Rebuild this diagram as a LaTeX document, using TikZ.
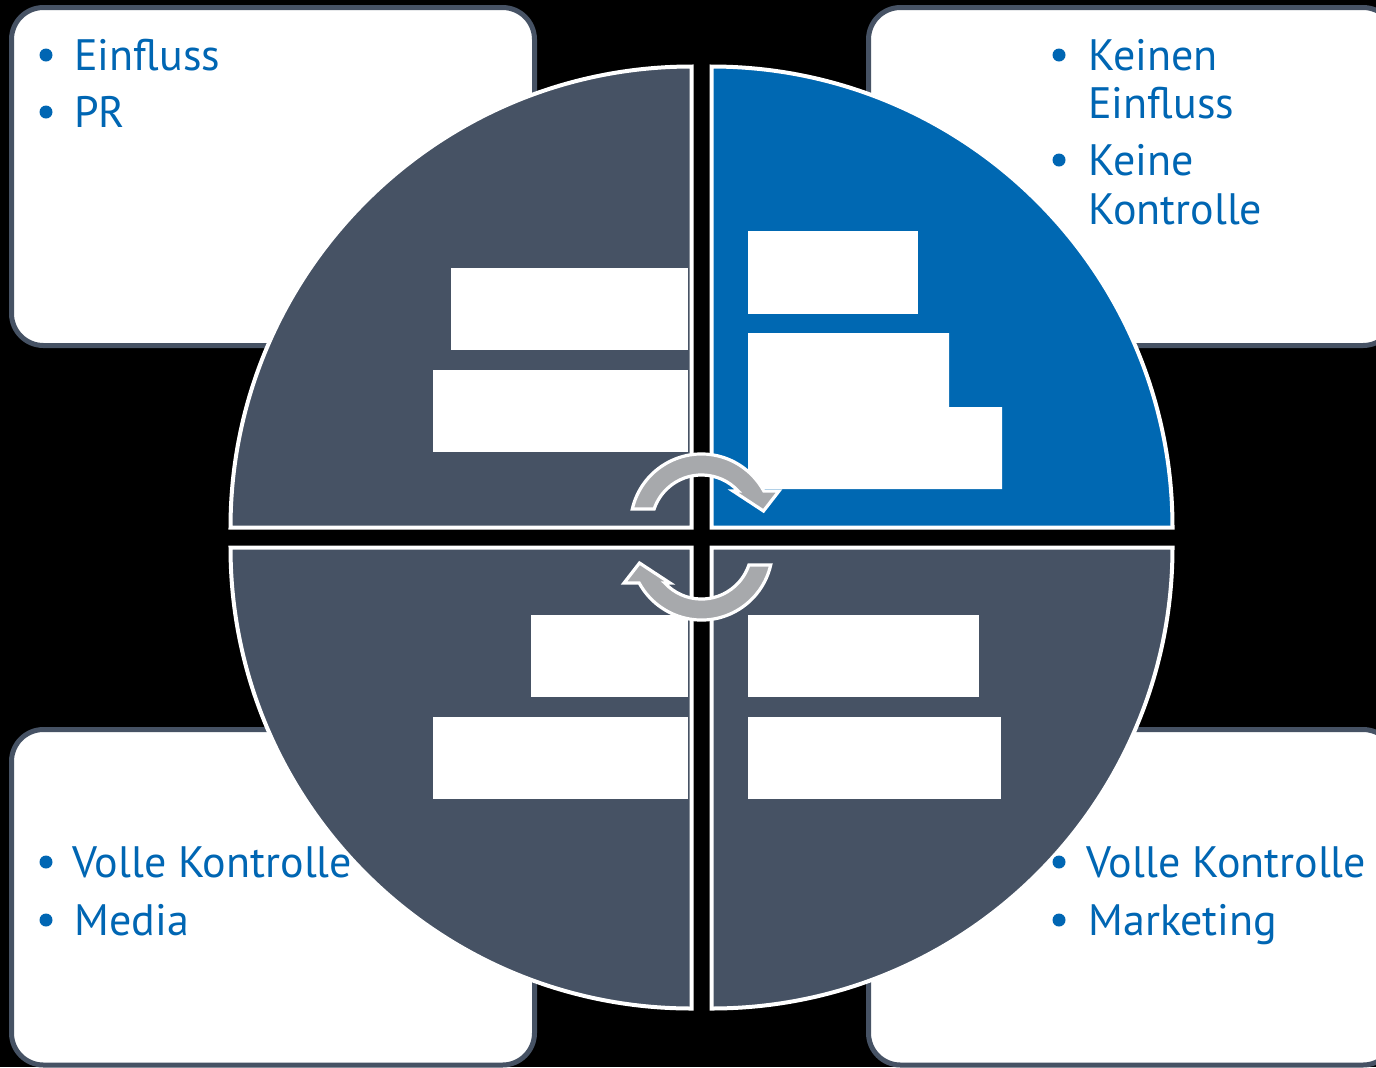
\documentclass[tikz,border=0pt]{standalone}
\usepackage{fontspec}
\setmainfont{PT Sans}
\definecolor{slate}{RGB}{70,82,100}
\definecolor{qblue}{RGB}{0,104,178}
\definecolor{tblue}{RGB}{0,102,179}
\definecolor{agray}{RGB}{167,169,172}
\begin{document}
\begin{tikzpicture}[x=0.5pt,y=0.5pt,
  card/.style={draw=slate, line width=2.5pt, fill=white, rounded corners=16pt},
  quad/.style={draw=white, line width=2pt, fill=slate},
  ph/.style={fill=white, draw=none},
  cyc/.style={fill=agray, draw=white, line width=1.6pt, line join=miter},
  lbl/.style={text=tblue, font=\fontsize{22}{24}\selectfont, anchor=base west, inner sep=0pt},
  dot/.style={circle, fill=tblue, inner sep=0pt, minimum size=6.5pt}]
\fill[black] (0,0) rectangle (1376,-1067);
\useasboundingbox (0,0) rectangle (1376,-1067);

% cards
\draw[card] (11.5,-7.5) rectangle (534.5,-345.5);
\draw[card] (868.5,-7.5) rectangle (1395,-345.5);
\draw[card] (11.5,-729.5) rectangle (534.5,-1065);
\draw[card] (868.5,-729.5) rectangle (1395,-1065);

% quadrants
\draw[quad] (691.5,-527.5) -- (230.5,-527.5) arc[start angle=180, end angle=90, radius=461] -- cycle;
\draw[quad, fill=qblue] (711.5,-527.5) -- (711.5,-66.5) arc[start angle=90, end angle=0, radius=461] -- cycle;
\draw[quad] (691.5,-547.5) -- (230.5,-547.5) arc[start angle=180, end angle=270, radius=461] -- cycle;
\draw[quad] (711.5,-547.5) -- (1172.5,-547.5) arc[start angle=0, end angle=-90, radius=461] -- cycle;

% placeholder blocks
\fill[ph] (451,-268) rectangle (688,-350);
\fill[ph] (433,-370) rectangle (688,-452);
\fill[ph] (748,-231) rectangle (918,-314);
\fill[ph] (748,-333) -- (949,-333) -- (949,-407) -- (1002,-407) -- (1002,-489) -- (748,-489) -- cycle;
\fill[ph] (531,-615) rectangle (688,-697);
\fill[ph] (433,-717) rectangle (688,-799);
\fill[ph] (748,-615) rectangle (979,-697);
\fill[ph] (748,-717) rectangle (1001,-799);

% cycle arrows
\draw[cyc] (632.3,-509) arc[start angle=167.0, end angle=28.6, radius=71] -- (779,-491) -- (763.5,-511) -- (733,-491) -- (738.2,-491) arc[start angle=42.8, end angle=161.3, radius=50] -- cycle;
\begin{scope}[rotate around={180:(701.5,-537)}]
\draw[cyc] (632.3,-509) arc[start angle=167.0, end angle=28.6, radius=71] -- (779,-491) -- (763.5,-511) -- (733,-491) -- (738.2,-491) arc[start angle=42.8, end angle=161.3, radius=50] -- cycle;
\end{scope}

% texts
\node[dot] (b1) at (46,-55) {};
\node[lbl] (t1) at (74,-70) {Einfluss};
\node[dot] (b2) at (46,-112) {};
\node[lbl] (t2) at (74,-127) {PR};

\node[dot] (b3) at (1059,-55) {};
\node[lbl] (t3a) at (1088,-70) {Keinen};
\node[lbl] (t3b) at (1088,-118) {Einfluss};
\node[dot] (b4) at (1059,-160) {};
\node[lbl] (t4a) at (1088,-175) {Keine};
\node[lbl] (t4b) at (1088,-224) {Kontrolle};

\node[dot] (b5) at (46,-862) {};
\node[lbl] (t5) at (72,-877) {Volle Kontrolle};
\node[dot] (b6) at (46,-920) {};
\node[lbl] (t6) at (74,-935) {Media};

\node[dot] (b7) at (1059,-862) {};
\node[lbl] (t7) at (1086,-877) {Volle Kontrolle};
\node[dot] (b8) at (1059,-920) {};
\node[lbl] (t8) at (1088,-935) {Marketing};
\end{tikzpicture}
\end{document}
